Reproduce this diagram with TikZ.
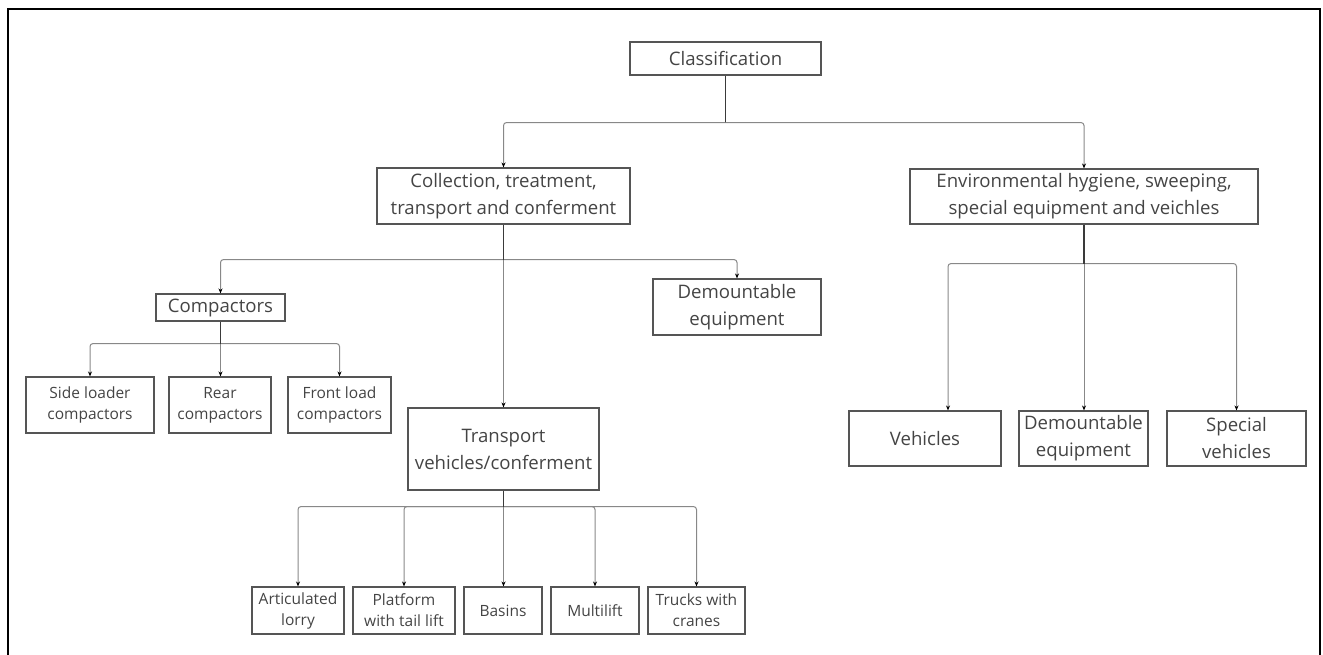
\documentclass[tikz,border=0pt]{standalone}
\usepackage{fontspec}
\setmainfont{Open Sans}
\usetikzlibrary{arrows.meta}
\definecolor{boxline}{HTML}{555555}
\definecolor{txt}{HTML}{444444}
\definecolor{branchgray}{HTML}{888888}
\definecolor{trunkgray}{HTML}{3A3A3A}
\tikzset{
  box/.style={draw=boxline, line width=1.1pt, rectangle, inner sep=0pt, align=center,
    text=txt, font=\fontsize{18.6}{27}\selectfont},
  smallbox/.style={box, font=\fontsize{15.5}{21}\selectfont},
  trunk/.style={draw=trunkgray, line width=1.1pt},
  branch/.style={draw=branchgray, line width=1pt, rounded corners=3pt,
    -{Stealth[length=5pt,width=4pt,color=black]}},
}
\begin{document}
\begin{tikzpicture}[x=1pt, y=-1pt]
\useasboundingbox (0,0) rectangle (1323,655);
% outer frame
\draw[line width=2pt, black] (8,670) -- (8,9) -- (1320,9) -- (1320,670);

% boxes
\node[box, minimum width=191, minimum height=33] (cls) at (725.5,58.5) {Classification};
\node[box, minimum width=253, minimum height=56] (col) at (503.5,196) {Collection, treatment,\\transport and conferment};
\node[box, minimum width=348, minimum height=55] (env) at (1084,196.5) {Environmental hygiene, sweeping,\\special equipment and veichles};
\node[box, minimum width=129, minimum height=27] (cmp) at (220.5,307.5) {Compactors};
\node[box, minimum width=168, minimum height=56] (dem1) at (737,307) {Demountable\\equipment};
\node[box, minimum width=191, minimum height=82] (trn) at (503.5,449) {Transport\\vehicles/conferment};

\node[smallbox, minimum width=128, minimum height=56] (sl) at (90,405) {Side loader\\compactors};
\node[smallbox, minimum width=102, minimum height=56] (rear) at (220,405) {Rear\\compactors};
\node[smallbox, minimum width=103, minimum height=56] (front) at (339.5,405) {Front load\\compactors};

\node[smallbox, minimum width=92, minimum height=47] (art) at (298,610.5) {Articulated\\lorry};
\node[smallbox, minimum width=102, minimum height=47] (plat) at (404,610.5) {Platform\\with tail lift};
\node[smallbox, minimum width=78, minimum height=47] (bas) at (503,610.5) {Basins};
\node[smallbox, minimum width=88, minimum height=47] (mul) at (595,610.5) {Multilift};
\node[smallbox, minimum width=97, minimum height=47] (trk) at (696.5,610.5) {Trucks with\\cranes};

\node[box, minimum width=152, minimum height=55] (veh) at (925,438.5) {Vehicles};
\node[box, minimum width=129, minimum height=55] (dem2) at (1083.5,438.5) {Demountable\\equipment};
\node[box, minimum width=139, minimum height=55] (spc) at (1236.5,438.5) {Special\\vehicles};

% junction points below each parent
\coordinate (jcls) at ([yshift=-47pt]cls.south);
\coordinate (jcol) at ([yshift=-35pt]col.south);
\coordinate (jenv) at ([yshift=-39pt]env.south);
\coordinate (jcmp) at ([yshift=-22pt]cmp.south);
\coordinate (jtrn) at ([yshift=-16pt]trn.south);
\coordinate (vehin) at ([xshift=23pt]veh.north);

% connectors
\draw[trunk] (cls.south) -- (jcls);
\draw[branch] (jcls) -| (col.north);
\draw[branch] (jcls) -| (env.north);

\draw[branch] (jcol) -| (cmp.north);
\draw[branch] (jcol) -| (dem1.north);
\draw[branch] (jcol) -- (jcol |- trn.north);
\draw[trunk] (col.south) -- (jcol);

\draw[branch] (jenv) -| (vehin);
\draw[branch] (jenv) -- (jenv |- dem2.north);
\draw[branch] (jenv) -| (spc.north);
\draw[trunk] (env.south) -- (jenv);

\draw[branch] (jcmp) -| (sl.north);
\draw[branch] (jcmp) -- (jcmp |- rear.north);
\draw[branch] (jcmp) -| (front.north);
\draw[trunk] (cmp.south) -- (jcmp);

\draw[branch] (jtrn) -| (art.north);
\draw[branch] (jtrn) -| (plat.north);
\draw[branch] (jtrn) -- (jtrn |- bas.north);
\draw[branch] (jtrn) -| (mul.north);
\draw[branch] (jtrn) -| (trk.north);
\draw[trunk] (trn.south) -- (jtrn);
\end{tikzpicture}
\end{document}
